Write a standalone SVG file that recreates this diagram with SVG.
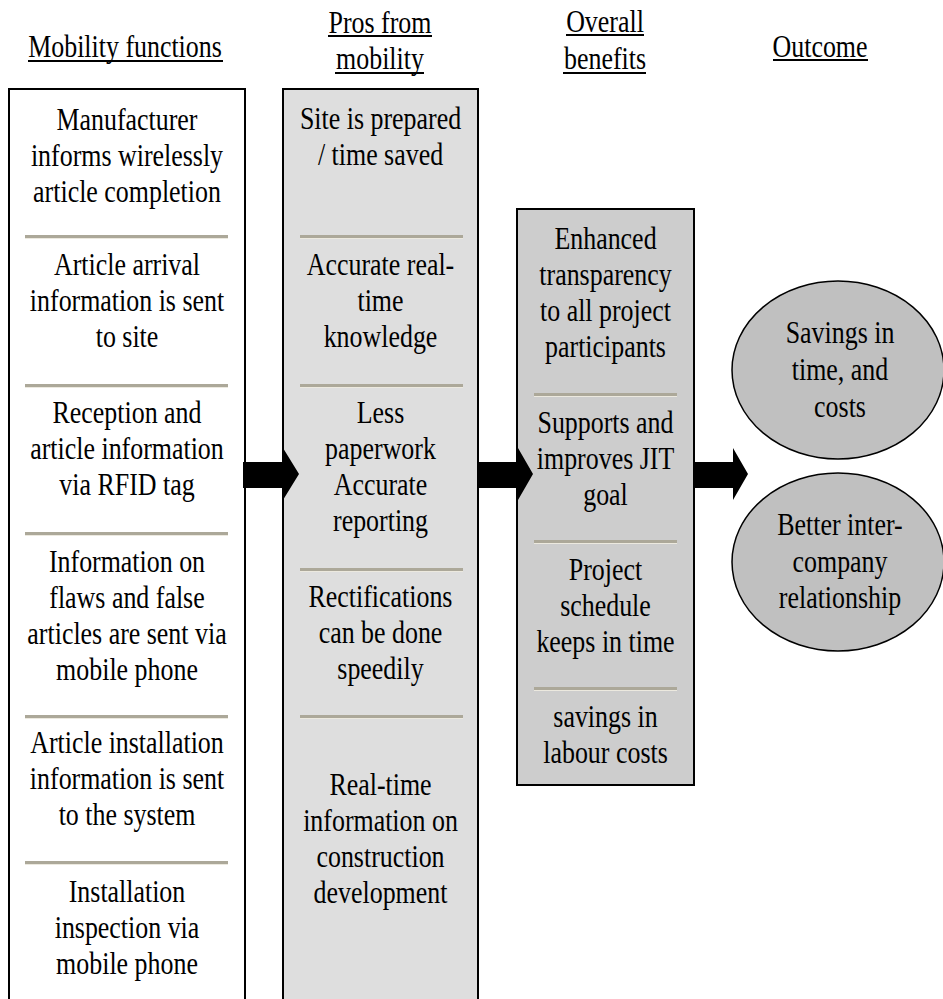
<svg xmlns="http://www.w3.org/2000/svg" width="943" height="999" viewBox="0 0 943 999">
<style>
text{font-family:"Liberation Serif","Times New Roman",serif;font-size:32px;fill:#000;text-anchor:middle}
.box{stroke:#000;stroke-width:2}
.b1{fill:#fff}.b2{fill:#dedede}.b3{fill:#cdcdcd}
.ell{fill:#c0c0c0;stroke:#000;stroke-width:1.5}
.ul{stroke:#000;stroke-width:2}
.sep{fill:#aca899}
.sepl{fill:#ece9df}
.arrow{fill:#000}
</style>
<rect width="943" height="999" fill="#fff"/>
<g id="headers">
<g transform="translate(125 0) scale(0.81 1)"><text x="0" y="57">Mobility functions</text></g>
<line class="ul" x1="28" y1="61" x2="223" y2="61"/>
<g transform="translate(380 0) scale(0.81 1)"><text x="0" y="33">Pros from</text><text x="0" y="69">mobility</text></g>
<line class="ul" x1="328" y1="36" x2="432" y2="36"/>
<line class="ul" x1="335" y1="73" x2="424" y2="73"/>
<g transform="translate(605 0) scale(0.81 1)"><text x="0" y="32">Overall</text><text x="0" y="69">benefits</text></g>
<line class="ul" x1="566" y1="35" x2="644" y2="35"/>
<line class="ul" x1="563" y1="73" x2="646" y2="73"/>
<g transform="translate(820 0) scale(0.81 1)"><text x="0" y="57">Outcome</text></g>
<line class="ul" x1="773" y1="60" x2="868" y2="60"/>
</g>
<g id="mobility-functions">
<rect class="box b1" x="9" y="89" width="236" height="930"/>
<rect class="sep" x="25" y="235" width="203" height="3"/><rect class="sepl" x="25" y="238" width="203" height="1"/>
<rect class="sep" x="25" y="384" width="203" height="3"/><rect class="sepl" x="25" y="387" width="203" height="1"/>
<rect class="sep" x="25" y="532" width="203" height="3"/><rect class="sepl" x="25" y="535" width="203" height="1"/>
<rect class="sep" x="25" y="715" width="203" height="3"/><rect class="sepl" x="25" y="718" width="203" height="1"/>
<rect class="sep" x="25" y="861" width="203" height="3"/><rect class="sepl" x="25" y="864" width="203" height="1"/>
<g transform="translate(127 0) scale(0.81 1)">
<text x="0" y="130">Manufacturer</text><text x="0" y="166">informs wirelessly</text><text x="0" y="202">article completion</text>
<text x="0" y="275">Article arrival</text><text x="0" y="311">information is sent</text><text x="0" y="347">to site</text>
<text x="0" y="423">Reception and</text><text x="0" y="459">article information</text><text x="0" y="495">via RFID tag</text>
<text x="0" y="572">Information on</text><text x="0" y="608">flaws and false</text><text x="0" y="644">articles are sent via</text><text x="0" y="680">mobile phone</text>
<text x="0" y="753">Article installation</text><text x="0" y="789">information is sent</text><text x="0" y="825">to the system</text>
<text x="0" y="902">Installation</text><text x="0" y="938">inspection via</text><text x="0" y="974">mobile phone</text>
</g>
</g>
<g id="pros-from-mobility">
<rect class="box b2" x="283" y="89" width="195" height="930"/>
<rect class="sep" x="300" y="235" width="163" height="3"/><rect class="sepl" x="300" y="238" width="163" height="1"/>
<rect class="sep" x="300" y="384" width="163" height="3"/><rect class="sepl" x="300" y="387" width="163" height="1"/>
<rect class="sep" x="300" y="568" width="163" height="3"/><rect class="sepl" x="300" y="571" width="163" height="1"/>
<rect class="sep" x="300" y="715" width="163" height="3"/><rect class="sepl" x="300" y="718" width="163" height="1"/>
<g transform="translate(380.5 0) scale(0.81 1)">
<text x="0" y="129">Site is prepared</text><text x="0" y="165">/ time saved</text>
<text x="0" y="275">Accurate real-</text><text x="0" y="311">time</text><text x="0" y="347">knowledge</text>
<text x="0" y="423">Less</text><text x="0" y="459">paperwork</text><text x="0" y="495">Accurate</text><text x="0" y="531">reporting</text>
<text x="0" y="607">Rectifications</text><text x="0" y="643">can be done</text><text x="0" y="679">speedily</text>
<text x="0" y="795">Real-time</text><text x="0" y="831">information on</text><text x="0" y="867">construction</text><text x="0" y="903">development</text>
</g>
</g>
<g id="overall-benefits">
<rect class="box b3" x="517" y="209" width="177" height="576"/>
<rect class="sep" x="534" y="393" width="143" height="3"/><rect class="sepl" x="534" y="396" width="143" height="1"/>
<rect class="sep" x="534" y="540" width="143" height="3"/><rect class="sepl" x="534" y="543" width="143" height="1"/>
<rect class="sep" x="534" y="687" width="143" height="3"/><rect class="sepl" x="534" y="690" width="143" height="1"/>
<g transform="translate(605.5 0) scale(0.81 1)">
<text x="0" y="249">Enhanced</text><text x="0" y="285">transparency</text><text x="0" y="321">to all project</text><text x="0" y="357">participants</text>
<text x="0" y="433">Supports and</text><text x="0" y="469">improves JIT</text><text x="0" y="505">goal</text>
<text x="0" y="580">Project</text><text x="0" y="616">schedule</text><text x="0" y="652">keeps in time</text>
<text x="0" y="727">savings in</text><text x="0" y="763">labour costs</text>
</g>
</g>
<g id="outcome-savings">
<ellipse class="ell" cx="838" cy="370" rx="106" ry="89"/>
<g transform="translate(840 0) scale(0.81 1)"><text x="0" y="343">Savings in</text><text x="0" y="380">time, and</text><text x="0" y="417">costs</text></g>
</g>
<g id="outcome-relationship">
<ellipse class="ell" cx="838" cy="562" rx="106" ry="89"/>
<g transform="translate(840 0) scale(0.81 1)"><text x="0" y="535">Better inter-</text><text x="0" y="572">company</text><text x="0" y="608">relationship</text></g>
</g>
<g id="connectors">
<polygon class="arrow" points="243,462 283,462 283,448 299,474 283,500 283,488 243,488"/>
<polygon class="arrow" points="478,462 518,462 518,448 533,474 518,500 518,488 478,488"/>
<polygon class="arrow" points="693,462 733,462 733,448 748,474 733,500 733,488 693,488"/>
</g>
</svg>
